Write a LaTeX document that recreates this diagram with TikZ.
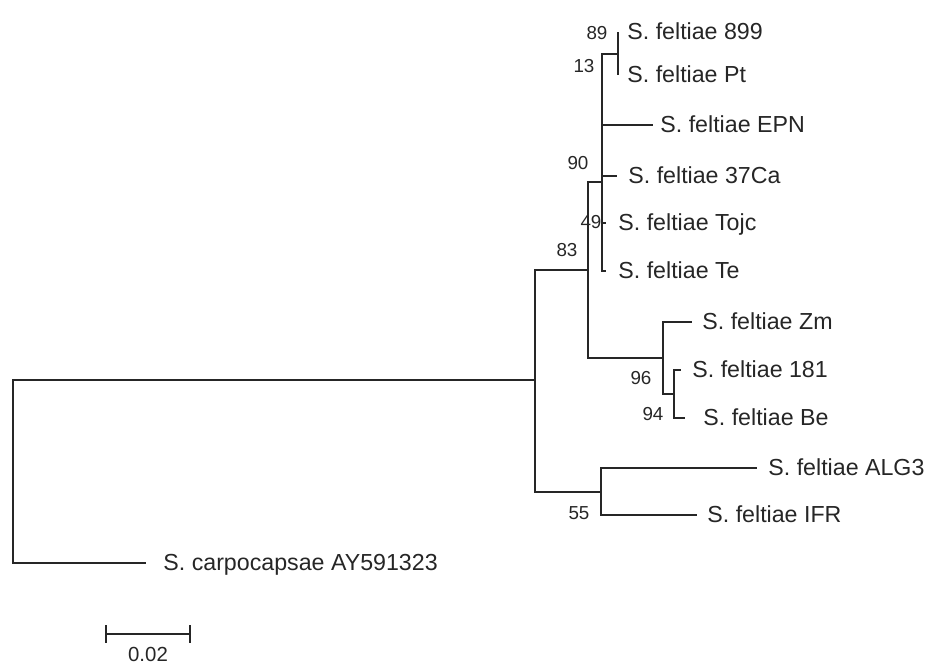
\documentclass[tikz,border=0pt]{standalone}
\usepackage{fontspec}
\setmainfont{Liberation Sans}
\usetikzlibrary{positioning}

\tikzset{
  branch/.style={line width=0.9pt, black!85},
  taxon/.style={anchor=west, inner sep=0pt, text height=0.72em, text depth=0pt,
    font=\fontsize{11.6}{14}\selectfont, text=black!85},
  boot/.style={inner sep=0pt, font=\fontsize{9.4}{11}\selectfont, text=black!85}
}

\begin{document}
\begin{tikzpicture}[x=0.5pt,y=-0.5pt]
\useasboundingbox (0,0) rectangle (934,664);

% internal nodes
\coordinate (root)  at (13,471);
\coordinate (ingrp) at (535,380);
\coordinate (n83)   at (588,270);
\coordinate (n90)   at (602,182);
\coordinate (n89)   at (618,54);
\coordinate (n96)   at (663,358);
\coordinate (n94)   at (674,394);
\coordinate (n55)   at (601,492);

% tips
\coordinate (t899)  at (618,32);
\coordinate (tPt)   at (618,75);
\coordinate (tEPN)  at (653,125);
\coordinate (t37Ca) at (617,176);
\coordinate (tTojc) at (606,223);
\coordinate (tTe)   at (606,271);
\coordinate (tZm)   at (692,322);
\coordinate (t181)  at (681,370);
\coordinate (tBe)   at (685,418);
\coordinate (tALG3) at (757,468);
\coordinate (tIFR)  at (697,515);
\coordinate (tcarp) at (146,563);

\foreach \p/\c in {root/ingrp, root/tcarp, ingrp/n83, ingrp/n55,
    n83/n90, n83/n96, n90/n89, n90/tEPN, n90/t37Ca, n90/tTojc, n90/tTe,
    n89/t899, n89/tPt, n96/tZm, n96/n94, n94/t181, n94/tBe,
    n55/tALG3, n55/tIFR}{%
  \draw[branch] (\p) |- (\c);
}

% taxa
\node[taxon, right=4.5pt of t899]  (l899)  {S. feltiae 899};
\node[taxon, right=4.5pt of tPt]   (lPt)   {S. feltiae Pt};
\node[taxon, right=3.5pt of tEPN]  (lEPN)  {S. feltiae EPN};
\node[taxon, right=5.5pt of t37Ca] (l37Ca) {S. feltiae 37Ca};
\node[taxon, right=6pt of tTojc]   (lTojc) {S. feltiae Tojc};
\node[taxon, right=6pt of tTe]     (lTe)   {S. feltiae Te};
\node[taxon, right=5pt of tZm]     (lZm)   {S. feltiae Zm};
\node[taxon, right=5.5pt of t181]  (l181)  {S. feltiae 181};
\node[taxon, right=9pt of tBe]     (lBe)   {S. feltiae Be};
\node[taxon, right=5.5pt of tALG3] (lALG3) {S. feltiae ALG3};
\node[taxon, right=5pt of tIFR]    (lIFR)  {S. feltiae IFR};
\node[taxon, right=8.5pt of tcarp] (lcarp) {S. carpocapsae AY591323};

% bootstrap values
\node[boot] (b89) at (597,33)  {89};
\node[boot] (b13) at (584,66)  {13};
\node[boot] (b90) at (578,163) {90};
\node[boot] (b49) at (591,222) {49};
\node[boot] (b83) at (567,250) {83};
\node[boot] (b96) at (641,378) {96};
\node[boot] (b94) at (653,414) {94};
\node[boot] (b55) at (579,513) {55};

% scale bar
\coordinate (sb1) at (106,634);
\coordinate (sb2) at (190,634);
\draw[branch] (sb1) -- (sb2);
\draw[branch] ([yshift=4.5pt]sb1) -- ([yshift=-4.5pt]sb1);
\draw[branch] ([yshift=4.5pt]sb2) -- ([yshift=-4.5pt]sb2);
\node[inner sep=0pt, font=\fontsize{10.2}{12}\selectfont, text=black!85] (sbl) at (148,654) {0.02};

\end{tikzpicture}
\end{document}
